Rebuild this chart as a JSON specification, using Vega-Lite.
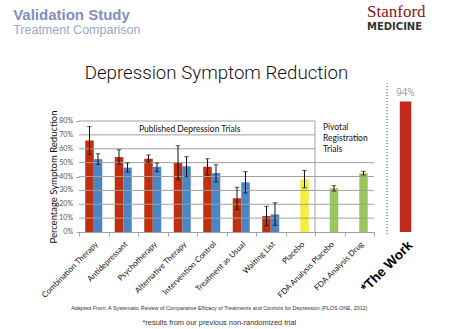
{
  "$schema": "https://vega.github.io/schema/vega-lite/v6.json",
  "background": "white",
  "padding": {"left": 13, "top": 3, "right": 0, "bottom": 0},
  "config": {"view": {"stroke": null}},
  "spacing": 13,
  "bounds": "flush",
  "title": {
    "text": "Adapted From: A Systematic Review of Comparative Efficacy of Treatments and Controls for Depression (PLOS ONE, 2012)",
    "subtitle": "*results from our previous non-randomized trial",
    "orient": "bottom", "anchor": "middle", "offset": 6,
    "font": "Liberation Sans", "fontSize": 5.4, "fontWeight": "normal", "color": "#333333",
    "subtitleFont": "Liberation Sans", "subtitleFontSize": 7.4, "subtitleColor": "#333333", "subtitlePadding": 8
  },
  "hconcat": [
    {
      "width": 295, "height": 111,
      "title": {
        "text": "Validation Study", "subtitle": "Treatment Comparison",
        "anchor": "start", "frame": "bounds", "dx": -27, "offset": 27,
        "font": "Liberation Sans", "fontSize": 15, "fontWeight": "bold", "color": "#7F90BE",
        "subtitleFont": "Liberation Sans", "subtitleFontSize": 12.5, "subtitleColor": "#98A8D0", "subtitlePadding": 1
      },
      "data": {"values": [
        {"treatment": "Combination Therapy", "series": "A", "group": "Red", "value": 0.66, "low": 0.557, "high": 0.76},
        {"treatment": "Combination Therapy", "series": "B", "group": "Blue", "value": 0.525, "low": 0.488, "high": 0.564},
        {"treatment": "Antidepressant", "series": "A", "group": "Red", "value": 0.54, "low": 0.49, "high": 0.593},
        {"treatment": "Antidepressant", "series": "B", "group": "Blue", "value": 0.464, "low": 0.432, "high": 0.497},
        {"treatment": "Psychotherapy", "series": "A", "group": "Red", "value": 0.528, "low": 0.502, "high": 0.555},
        {"treatment": "Psychotherapy", "series": "B", "group": "Blue", "value": 0.47, "low": 0.435, "high": 0.497},
        {"treatment": "Alternative Therapy", "series": "A", "group": "Red", "value": 0.50, "low": 0.377, "high": 0.622},
        {"treatment": "Alternative Therapy", "series": "B", "group": "Blue", "value": 0.474, "low": 0.401, "high": 0.543},
        {"treatment": "Intervention Control", "series": "A", "group": "Red", "value": 0.47, "low": 0.411, "high": 0.528},
        {"treatment": "Intervention Control", "series": "B", "group": "Blue", "value": 0.425, "low": 0.36, "high": 0.485},
        {"treatment": "Treatment as Usual", "series": "A", "group": "Red", "value": 0.243, "low": 0.163, "high": 0.322},
        {"treatment": "Treatment as Usual", "series": "B", "group": "Blue", "value": 0.358, "low": 0.281, "high": 0.435},
        {"treatment": "Waiting List", "series": "A", "group": "Red", "value": 0.115, "low": 0.046, "high": 0.185},
        {"treatment": "Waiting List", "series": "B", "group": "Blue", "value": 0.127, "low": 0.048, "high": 0.211},
        {"treatment": "Placebo", "series": "B", "group": "Placebo", "value": 0.38, "low": 0.319, "high": 0.444},
        {"treatment": "FDA Analysis Placebo", "series": "B", "group": "FDA", "value": 0.315, "low": 0.295, "high": 0.334},
        {"treatment": "FDA Analysis Drug", "series": "B", "group": "FDA", "value": 0.423, "low": 0.411, "high": 0.437}
      ]},
      "layer": [
        {
          "mark": {"type": "bar"},
          "encoding": {
            "x": {"field": "treatment", "type": "nominal", "sort": null,
              "scale": {"domain": ["Combination Therapy", "Antidepressant", "Psychotherapy", "Alternative Therapy", "Intervention Control", "Treatment as Usual", "Waiting List", "Placebo", "FDA Analysis Placebo", "FDA Analysis Drug"], "paddingInner": 0, "paddingOuter": 0},
              "axis": {"title": null, "labelAngle": -45, "labelFont": "Lato", "labelFontSize": 8, "labelColor": "#111111", "labelPadding": 4,
                "domainColor": "#A0A0A0", "tickColor": "#A0A0A0", "tickSize": 4, "tickBand": "extent"}},
            "xOffset": {"field": "series", "scale": {"domain": ["A", "B"], "paddingInner": 0, "paddingOuter": 0.735}},
            "y": {"field": "value", "type": "quantitative", "scale": {"domain": [0, 0.8]},
              "axis": {"title": "Percentage Symptom Reduction", "labels": false, "values": [0, 0.1, 0.2, 0.3, 0.4, 0.5, 0.6, 0.7, 0.8],
                "grid": false, "domain": false, "tickColor": "#A0A0A0", "tickSize": 3,
                "titleFont": "Lato", "titleFontSize": 9.5, "titleFontWeight": "normal", "titleColor": "#111111", "titlePadding": 17}},
            "color": {"field": "group", "type": "nominal", "legend": null,
              "scale": {"domain": ["Red", "Blue", "Placebo", "FDA"], "range": ["#C0300F", "#4A86C6", "#F4EE3C", "#9BC75A"]}}
          }
        },
        {
          "data": {"values": [
            {"level": 0.1, "start": "Combination Therapy", "end": "FDA Analysis Drug"},
            {"level": 0.2, "start": "Combination Therapy", "end": "FDA Analysis Drug"},
            {"level": 0.3, "start": "Combination Therapy", "end": "FDA Analysis Drug"},
            {"level": 0.4, "start": "Combination Therapy", "end": "FDA Analysis Drug"},
            {"level": 0.5, "start": "Combination Therapy", "end": "FDA Analysis Drug"},
            {"level": 0.6, "start": "Combination Therapy", "end": "Placebo"},
            {"level": 0.7, "start": "Combination Therapy", "end": "Placebo"},
            {"level": 0.8, "start": "Combination Therapy", "end": "Placebo"}
          ]},
          "mark": {"type": "rule", "color": "#A0A0A0", "strokeWidth": 1},
          "encoding": {
            "x": {"field": "start", "type": "nominal", "bandPosition": 0},
            "x2": {"field": "end", "bandPosition": 1},
            "y": {"field": "level", "type": "quantitative"}
          }
        },
        {
          "data": {"values": [
            {"level": 0, "start": "Combination Therapy"},
            {"level": 0.1, "start": "Combination Therapy"},
            {"level": 0.2, "start": "Combination Therapy"},
            {"level": 0.3, "start": "Combination Therapy"},
            {"level": 0.4, "start": "Combination Therapy"},
            {"level": 0.5, "start": "Combination Therapy"},
            {"level": 0.6, "start": "Combination Therapy"},
            {"level": 0.7, "start": "Combination Therapy"},
            {"level": 0.8, "start": "Combination Therapy"}
          ]},
          "mark": {"type": "text", "align": "right", "baseline": "middle", "dx": -6, "font": "Lato", "fontSize": 7, "color": "#555555"},
          "encoding": {
            "x": {"field": "start", "type": "nominal", "bandPosition": 0},
            "y": {"field": "level", "type": "quantitative"},
            "text": {"field": "level", "type": "quantitative", "format": ".0%"}
          }
        },
        {
          "data": {"values": [{"at": "FDA Analysis Placebo", "from": 0, "to": 0.8}]},
          "mark": {"type": "rule", "color": "#A0A0A0", "strokeWidth": 1},
          "encoding": {
            "x": {"field": "at", "type": "nominal", "bandPosition": 0},
            "y": {"field": "from", "type": "quantitative"},
            "y2": {"field": "to"}
          }
        },
        {
          "mark": {"type": "rule", "color": "#111111", "strokeWidth": 1},
          "encoding": {
            "x": {"field": "treatment", "type": "nominal", "sort": null},
            "xOffset": {"field": "series"},
            "y": {"field": "low", "type": "quantitative"},
            "y2": {"field": "high"}
          }
        },
        {
          "mark": {"type": "tick", "color": "#111111", "thickness": 1, "size": 4.5},
          "encoding": {
            "x": {"field": "treatment", "type": "nominal", "sort": null},
            "xOffset": {"field": "series"},
            "y": {"field": "low", "type": "quantitative"}
          }
        },
        {
          "mark": {"type": "tick", "color": "#111111", "thickness": 1, "size": 4.5},
          "encoding": {
            "x": {"field": "treatment", "type": "nominal", "sort": null},
            "xOffset": {"field": "series"},
            "y": {"field": "high", "type": "quantitative"}
          }
        },
        {
          "data": {"values": [{"label": "Published Depression Trials", "at": "Psychotherapy", "pos": 0.745}]},
          "mark": {"type": "text", "align": "left", "baseline": "middle", "font": "Lato", "fontSize": 8.5, "color": "#111111"},
          "encoding": {
            "x": {"field": "at", "type": "nominal", "bandPosition": 0.03},
            "y": {"field": "pos", "type": "quantitative"},
            "text": {"field": "label"}
          }
        },
        {
          "data": {"values": [{"label": "Pivotal\nRegistration\nTrials", "at": "FDA Analysis Placebo", "pos": 0.783}]},
          "mark": {"type": "text", "align": "left", "baseline": "top", "lineBreak": "\n", "lineHeight": 11, "font": "Lato", "fontSize": 8.5, "color": "#111111"},
          "encoding": {
            "x": {"field": "at", "type": "nominal", "bandPosition": 0.27},
            "y": {"field": "pos", "type": "quantitative"},
            "text": {"field": "label"}
          }
        },
        {
          "data": {"values": [{"label": "Depression Symptom Reduction", "at": "Intervention Control", "pos": 1.105}]},
          "mark": {"type": "text", "align": "center", "baseline": "alphabetic", "font": "Roboto", "fontWeight": 300, "fontSize": 18.7, "color": "#111111"},
          "encoding": {
            "x": {"field": "at", "type": "nominal", "bandPosition": 0.66},
            "y": {"field": "pos", "type": "quantitative"},
            "text": {"field": "label"}
          }
        }
      ]
    },
    {
      "width": 37, "height": 111,
      "title": {
        "text": "Stanford", "subtitle": "MEDICINE",
        "anchor": "start", "frame": "group", "dx": -20, "offset": 50,
        "font": "Liberation Serif", "fontSize": 17, "fontWeight": "normal", "color": "#8C1515",
        "subtitleFont": "DejaVu Sans", "subtitleFontSize": 10, "subtitleFontWeight": "bold", "subtitleColor": "#333333", "subtitlePadding": 1
      },
      "data": {"values": [{"treatment": "*The Work", "value": 0.94, "from": -0.015, "to": 1.07}]},
      "layer": [
        {
          "mark": {"type": "bar", "width": {"band": 0.31}, "color": "#C0291B"},
          "encoding": {
            "x": {"field": "treatment", "type": "nominal", "scale": {"paddingInner": 0, "paddingOuter": 0},
              "axis": {"title": null, "labelAngle": -45, "labelFont": "Liberation Sans", "labelFontSize": 13.5, "labelFontWeight": "bold", "labelColor": "#000000", "labelPadding": 6, "domain": false, "ticks": false}},
            "y": {"field": "value", "type": "quantitative", "scale": {"domain": [0, 0.8]}, "axis": null}
          }
        },
        {
          "mark": {"type": "rule", "color": "#333333", "strokeDash": [1, 2], "strokeWidth": 1},
          "encoding": {
            "x": {"field": "treatment", "type": "nominal", "bandPosition": 0},
            "y": {"field": "from", "type": "quantitative"},
            "y2": {"field": "to"}
          }
        },
        {
          "mark": {"type": "text", "dy": -9, "font": "Roboto", "fontWeight": 300, "fontSize": 10, "color": "#777777"},
          "encoding": {
            "x": {"field": "treatment", "type": "nominal"},
            "y": {"field": "value", "type": "quantitative"},
            "text": {"field": "value", "type": "quantitative", "format": ".0%"}
          }
        }
      ]
    }
  ]
}
